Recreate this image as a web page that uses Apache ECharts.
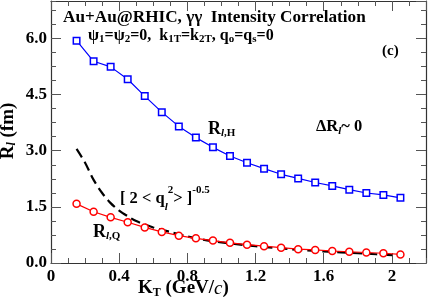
<!DOCTYPE html>
<html><head><meta charset="utf-8">
<script src="https://cdn.jsdelivr.net/npm/echarts@6/dist/echarts.min.js"></script>
<style>html,body{margin:0;padding:0;background:#fff}#c{width:428px;height:305px}</style>
</head><body><div id="c"></div>
<script>
// ---- data ----
const kt = [0.15,0.25,0.35,0.45,0.55,0.65,0.75,0.85,0.95,1.05,1.15,1.25,1.35,1.45,1.55,1.65,1.75,1.85,1.95,2.05];
const rH = [5.94,5.39,5.24,4.91,4.46,4.03,3.65,3.35,3.09,2.86,2.68,2.52,2.37,2.26,2.15,2.06,1.96,1.87,1.82,1.74];
const rQ = [1.58,1.37,1.22,1.09,0.95,0.83,0.73,0.66,0.60,0.54,0.49,0.45,0.41,0.37,0.35,0.32,0.30,0.28,0.26,0.23];
const dashX = [0.15,0.2,0.25,0.3,0.35,0.4,0.45,0.5,0.6,0.7,0.8,0.9,1.0,1.2,1.4,1.6,1.8,2.05];
const dashY = [3.05,2.68,2.22,1.87,1.60,1.40,1.25,1.12,0.95,0.83,0.71,0.62,0.55,0.45,0.37,0.31,0.26,0.20];
const xTickLabels = {'0':'0','0.4':'0.4','0.8':'0.8','1.2':'1.2','1.6':'1.6','2':'2'};
const yTickLabels = {'0':'0.0','1.5':'1.5','3':'3.0','4.5':'4.5','6':'6.0'};

const F = '"Liberation Serif","Times New Roman",serif';
const AX = '#333';

function xAxis(pos, interval, len, withLabel, withLine) {
  return {
    type:'value', position:pos, min:0, max:2.2, interval:interval, gridIndex:0,
    axisLine:{show:withLine, onZero:false, lineStyle:{color:AX, width:1.2}},
    axisTick:{show:true, inside:true, length:len, lineStyle:{color:'#555', width:1}},
    axisLabel:{show:withLabel, margin:5, showMaxLabel:false, color:'#000', fontFamily:F, fontWeight:'bold', fontSize:17,
      formatter:function(v){ const k = String(Math.round(v*10)/10); return xTickLabels[k] || ''; }},
    splitLine:{show:false}
  };
}
function yAxis(pos, interval, len, withLabel, withLine) {
  return {
    type:'value', position:pos, min:0, max:7, interval:interval, gridIndex:0,
    axisLine:{show:withLine, onZero:false, lineStyle:{color:AX, width:1.2}},
    axisTick:{show:true, inside:true, length:len, lineStyle:{color:'#555', width:1}},
    axisLabel:{show:withLabel, margin:4, showMaxLabel:false, color:'#000', fontFamily:F, fontWeight:'bold', fontSize:17,
      formatter:function(v){ const k = String(Math.round(v*1000)/1000); return yTickLabels[k] || ''; }},
    splitLine:{show:false}
  };
}

function tok(size, opts) {
  return Object.assign({fontFamily:F, fontSize:size, fontWeight:'bold', fill:'#000'}, opts||{});
}
function txt(x, y, text, rich, extra) {
  return Object.assign({type:'text', x:x, y:y, z:100,
    style:{text:text, rich:rich, align:'left', verticalAlign:'middle', fill:'#000', fontFamily:F}}, extra||{});
}

const chart = echarts.init(document.getElementById('c'), null, {renderer:'canvas'});
chart.setOption({
  animation:false,
  backgroundColor:'#fff',
  grid:{left:51, right:2, top:1, bottom:42, containLabel:false},
  xAxis:[ xAxis('bottom',0.4,10,true,true), xAxis('bottom',0.1,5,false,false),
          xAxis('top',0.4,10,false,true), xAxis('top',0.1,5,false,false) ],
  yAxis:[ yAxis('left',1.5,10,true,true), yAxis('left',0.375,5,false,false),
          yAxis('right',1.5,10,false,true), yAxis('right',0.375,5,false,false) ],
  series:[
    { type:'line', name:'dash', xAxisIndex:0, yAxisIndex:0, showSymbol:false, symbol:'none', smooth:0.3,
      lineStyle:{color:'#000', width:2.2, type:[10,5]},
      data: dashX.map((x,i)=>[x, dashY[i]]) },
    { type:'line', name:'RQ', xAxisIndex:0, yAxisIndex:0, symbol:'circle', symbolSize:7,
      lineStyle:{color:'#ff0000', width:1.2},
      itemStyle:{color:'#fff', borderColor:'#ff0000', borderWidth:1.5},
      data: kt.map((x,i)=>[x, rQ[i]]) },
    { type:'line', name:'RH', xAxisIndex:0, yAxisIndex:0, symbol:'rect', symbolSize:6.5,
      lineStyle:{color:'#0000ff', width:1.2},
      itemStyle:{color:'#fff', borderColor:'#0000ff', borderWidth:1.5},
      data: kt.map((x,i)=>[x, rH[i]]) }
  ],
  graphic:[
    txt(63, 17.5, '{n|Au+Au@RHIC, γγ  Intensity Correlation}', {n:tok(17.2,{lineHeight:18})}),
    txt(88, 35.5, '{n|ψ}{s|1}{n|=ψ}{s|2}{n|=0,  k}{s|1T}{n|=k}{s|2T}{n|, q}{s|o}{n|=q}{s|s}{n|=0}',
      {n:tok(16,{lineHeight:18}), s:tok(11,{lineHeight:6, verticalAlign:'bottom'})}),
    txt(382, 51.5, '{n|(c)}', {n:tok(15,{lineHeight:16})}),
    txt(208, 129, '{n|R}{si|l}{s|,H}',
      {n:tok(18,{lineHeight:20}), si:tok(11,{lineHeight:8, verticalAlign:'bottom', fontStyle:'italic'}), s:tok(11,{lineHeight:8, verticalAlign:'bottom'})}),
    txt(316, 127, '{n|ΔR}{si|l}{n|~ 0}',
      {n:tok(16.5,{lineHeight:20}), si:tok(11,{lineHeight:8, verticalAlign:'bottom', fontStyle:'italic'})}),
    txt(120, 198.5, '{n|[ 2 < q}{si|l}{p1|2}{n|> ]}{p2|-0.5}',
      {n:tok(16.5,{lineHeight:28}), si:tok(11,{lineHeight:22, verticalAlign:'bottom', fontStyle:'italic'}),
       p1:tok(11,{lineHeight:14, verticalAlign:'top'}), p2:tok(11,{lineHeight:4, verticalAlign:'top'})}),
    txt(93, 232, '{n|R}{si|l}{s|,Q}',
      {n:tok(18,{lineHeight:20}), si:tok(11,{lineHeight:8, verticalAlign:'bottom', fontStyle:'italic'}), s:tok(11,{lineHeight:8, verticalAlign:'bottom'})}),
    txt(138, 288.5, '{n|K}{s|T}{n| (GeV/}{i|c}{n|)}',
      {n:tok(19,{lineHeight:20}), s:tok(12,{lineHeight:8, verticalAlign:'bottom'}), i:tok(19,{lineHeight:20, fontStyle:'italic', fontWeight:'normal'})}),
    Object.assign(txt(8, 131, '{n|R}{si|l}{n| (fm)}',
      {n:tok(19,{lineHeight:20}), si:tok(12,{lineHeight:8, verticalAlign:'bottom', fontStyle:'italic'})}),
      {rotation:Math.PI/2, style:{text:'{n|R}{si|l}{n| (fm)}', align:'center', verticalAlign:'middle', fill:'#000', fontFamily:F,
        rich:{n:tok(19,{lineHeight:20}), si:tok(12,{lineHeight:8, verticalAlign:'bottom', fontStyle:'italic'})}}})
  ]
});
</script></body></html>
